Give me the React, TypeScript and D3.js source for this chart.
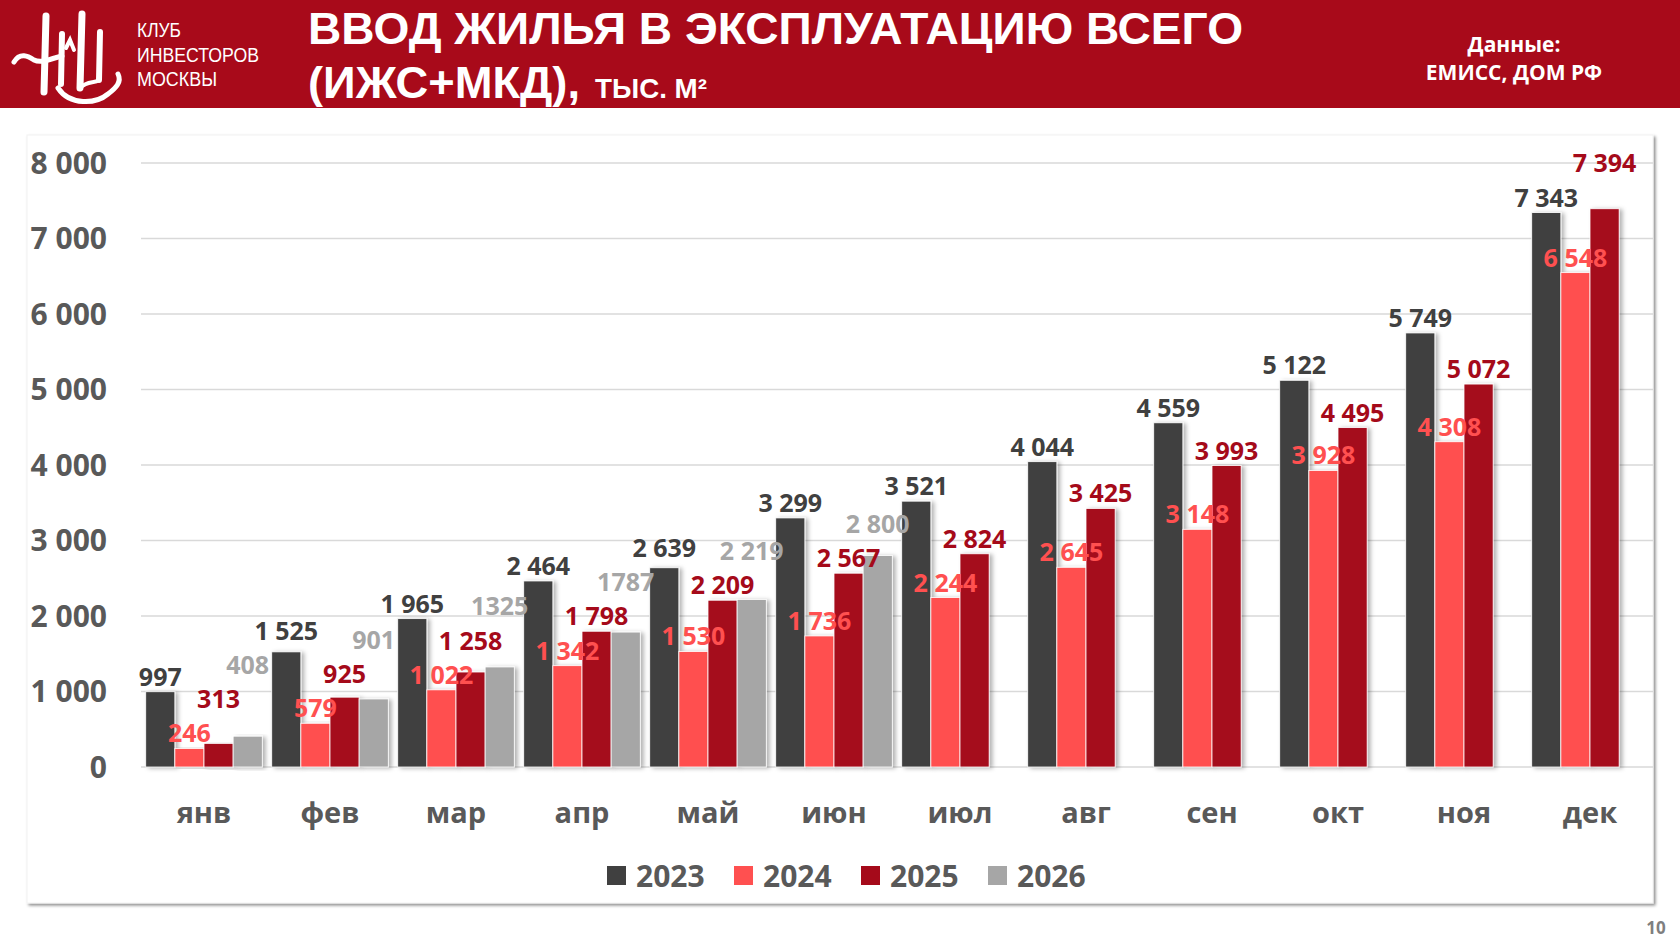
import React from 'react';
import * as d3 from 'd3';

const months = ['янв', 'фев', 'мар', 'апр', 'май', 'июн', 'июл', 'авг', 'сен', 'окт', 'ноя', 'дек'];
const years = ['2023', '2024', '2025', '2026'];

const values2023 = [997, 1525, 1965, 2464, 2639, 3299, 3521, 4044, 4559, 5122, 5749, 7343];
const values2024 = [246, 579, 1022, 1342, 1530, 1736, 2244, 2645, 3148, 3928, 4308, 6548];
const values2025 = [313, 925, 1258, 1798, 2209, 2567, 2824, 3425, 3993, 4495, 5072, 7394];
const values2026: (number | null)[] = [408, 901, 1325, 1787, 2219, 2800, null, null, null, null, null, null];
// 2026 labels are written as on the slide (some without the thousands space)
const labels2026 = ['408', '901', '1325', '1787', '2 219', '2 800'];

const yTicks = [0, 1000, 2000, 3000, 4000, 5000, 6000, 7000, 8000];

const colors = ['#404040', '#FF5050', '#A50A1A', '#A6A6A6'];
const headerRed = '#A80A1A';
const axisGray = '#595959';

interface BarDatum {
  month: string;
  year: string;
  value: number;
  label: string;
  idx: number;
}

interface Box {
  x0: number;
  x1: number;
  y0: number;
  y1: number;
}

const fmt = (v: number) => d3.format(',')(v).replace(/,/g, ' ');

const App: React.FC = () => {
  const ref = React.useRef<SVGSVGElement>(null);

  React.useEffect(() => {
    const W = 1680;
    const H = 945;
    const svg = d3.select(ref.current);
    svg.selectAll('*').remove();

    const defs = svg.append('defs');
    defs
      .append('filter')
      .attr('id', 'barShadow')
      .attr('x', '-20%')
      .attr('y', '-5%')
      .attr('width', '160%')
      .attr('height', '115%')
      .append('feDropShadow')
      .attr('dx', 3)
      .attr('dy', 1)
      .attr('stdDeviation', 2)
      .attr('flood-color', '#000')
      .attr('flood-opacity', 0.3);
    defs
      .append('filter')
      .attr('id', 'frameShadow')
      .attr('x', '-2%')
      .attr('y', '-2%')
      .attr('width', '104%')
      .attr('height', '106%')
      .append('feDropShadow')
      .attr('dx', 2)
      .attr('dy', 2)
      .attr('stdDeviation', 1.5)
      .attr('flood-color', '#000')
      .attr('flood-opacity', 0.45);

    svg.append('rect').attr('width', W).attr('height', H).attr('fill', '#fff');

    // header band
    svg.append('rect').attr('width', W).attr('height', 108).attr('fill', headerRed);

    // logo monogram (rough calligraphic shape)
    const logo = svg.append('g').attr('fill', 'none').attr('stroke', '#fff').attr('stroke-linecap', 'round');
    logo.append('path').attr('d', 'M46,16 L44,92').attr('stroke-width', 7);
    logo.append('path').attr('d', 'M62,34 L61,84').attr('stroke-width', 6);
    logo.append('path').attr('d', 'M14,62 C20,52 28,56 34,60 C42,64 52,58 62,56').attr('stroke-width', 5);
    logo.append('path').attr('d', 'M82,14 L80,88').attr('stroke-width', 7);
    logo.append('path').attr('d', 'M100,32 L99,80').attr('stroke-width', 6);
    logo.append('path').attr('d', 'M66,48 L70,40 L74,50').attr('stroke-width', 4);
    logo.append('path').attr('d', 'M58,88 C70,106 96,104 108,94 C116,88 122,82 118,74').attr('stroke-width', 5);
    logo.append('path').attr('d', 'M80,88 C88,80 94,84 99,80').attr('stroke-width', 4);

    const clubLines = ['КЛУБ', 'ИНВЕСТОРОВ', 'МОСКВЫ'];
    const clubLen = [44, 122, 80];
    svg
      .append('g')
      .selectAll('text')
      .data(clubLines)
      .enter()
      .append('text')
      .attr('x', 137)
      .attr('y', (_d: string, i: number) => 37 + i * 24.5)
      .attr('textLength', (_d: string, i: number) => clubLen[i])
      .attr('lengthAdjust', 'spacingAndGlyphs')
      .attr('fill', '#fff')
      .style('font-family', "'Liberation Sans Narrow', 'Liberation Sans', Arial, sans-serif")
      .style('font-size', '20px')
      .text((d: string) => d);

    const title = svg
      .append('g')
      .attr('fill', '#fff')
      .style('font-family', "'Liberation Sans', Arial, sans-serif")
      .style('font-weight', 700);
    title
      .append('text')
      .attr('x', 308)
      .attr('y', 44)
      .attr('textLength', 935)
      .attr('lengthAdjust', 'spacingAndGlyphs')
      .style('font-size', '45px')
      .text('ВВОД ЖИЛЬЯ В ЭКСПЛУАТАЦИЮ ВСЕГО');
    title
      .append('text')
      .attr('x', 308)
      .attr('y', 98)
      .attr('textLength', 272)
      .attr('lengthAdjust', 'spacingAndGlyphs')
      .style('font-size', '45px')
      .text('(ИЖС+МКД),');
    title
      .append('text')
      .attr('x', 595)
      .attr('y', 98)
      .attr('textLength', 112)
      .attr('lengthAdjust', 'spacingAndGlyphs')
      .style('font-size', '27px')
      .text('ТЫС. М²');

    const src = svg
      .append('g')
      .attr('fill', '#fff')
      .attr('text-anchor', 'middle')
      .style('font-family', "'Open Sans', 'Noto Sans', sans-serif")
      .style('font-weight', 700)
      .style('font-size', '21px');
    src.append('text').attr('x', 1514).attr('y', 52).text('Данные:');
    src.append('text').attr('x', 1514).attr('y', 80).text('ЕМИСС, ДОМ РФ');

    // chart frame
    svg
      .append('rect')
      .attr('x', 27)
      .attr('y', 135)
      .attr('width', 1626)
      .attr('height', 768)
      .attr('fill', '#fff')
      .attr('stroke', '#f2f2f2')
      .attr('filter', 'url(#frameShadow)');

    const x0 = d3.scaleBand<string>().domain(months).range([141, 1653]).paddingInner(0.075).paddingOuter(0.0375);
    const x1 = d3.scaleBand<string>().domain(years).range([0, x0.bandwidth()]);
    const y = d3.scaleLinear().domain([0, 8000]).range([767, 163]);

    const font = "'Open Sans', 'Noto Sans', sans-serif";

    // gridlines and y labels
    const grid = svg.append('g');
    grid
      .selectAll('line')
      .data(yTicks)
      .enter()
      .append('line')
      .attr('x1', 141)
      .attr('x2', 1653)
      .attr('y1', (d: number) => y(d))
      .attr('y2', (d: number) => y(d))
      .attr('stroke', '#d9d9d9')
      .attr('stroke-width', 1.5);
    grid
      .selectAll('text')
      .data(yTicks)
      .enter()
      .append('text')
      .attr('x', 107)
      .attr('y', (d: number) => y(d))
      .attr('dy', '0.36em')
      .attr('text-anchor', 'end')
      .attr('fill', axisGray)
      .style('font-family', font)
      .style('font-weight', 700)
      .style('font-size', '30px')
      .text((d: number) => fmt(d));

    const series = [values2023, values2024, values2025, values2026];
    const bars: BarDatum[] = [];
    series.forEach((vals, s) => {
      vals.forEach((v, m) => {
        if (v === null) return;
        bars.push({
          month: months[m],
          year: years[s],
          value: v,
          label: s === 3 ? labels2026[m] : fmt(v),
          idx: s
        });
      });
    });

    const barX = (d: BarDatum) => (x0(d.month) as number) + (x1(d.year) as number);

    const barG = svg.append('g');
    barG
      .selectAll('rect')
      .data(bars)
      .enter()
      .append('rect')
      .attr('x', barX)
      .attr('y', (d: BarDatum) => y(d.value))
      .attr('width', x1.bandwidth())
      .attr('height', (d: BarDatum) => y(0) - y(d.value))
      .attr('fill', (d: BarDatum) => colors[d.idx])
      .attr('stroke', '#fff')
      .attr('stroke-width', 0.8)
      .attr('filter', 'url(#barShadow)');

    // value labels, lifted when they collide with a neighbour (as the slide does by hand)
    const fs = 25;
    const labelSel = svg
      .append('g')
      .selectAll('text')
      .data(bars)
      .enter()
      .append('text')
      .attr('x', (d: BarDatum) => barX(d) + x1.bandwidth() / 2)
      .attr('y', (d: BarDatum) => y(d.value) - 7)
      .attr('text-anchor', 'middle')
      .attr('fill', (d: BarDatum) => colors[d.idx])
      .style('font-family', font)
      .style('font-weight', 700)
      .style('font-size', `${fs}px`)
      .text((d: BarDatum) => d.label);

    const placed: Box[] = [];
    const order = bars.map((_d, i) => i).sort((a, b) => {
      const ma = months.indexOf(bars[a].month);
      const mb = months.indexOf(bars[b].month);
      return ma - mb || bars[a].idx - bars[b].idx;
    });
    const nodes = labelSel.nodes() as SVGTextElement[];
    order.forEach((i) => {
      const node = nodes[i];
      const d = bars[i];
      const w = node.getComputedTextLength();
      const cx = barX(d) + x1.bandwidth() / 2;
      let base = y(d.value) - 6;
      const box = (b: number): Box => ({ x0: cx - w / 2 - 1, x1: cx + w / 2 + 1, y0: b - fs * 1.05, y1: b + fs * 0.28 });
      for (let k = 0; k < 12; k++) {
        const bx = box(base);
        const hit = placed.find((p) => bx.x0 < p.x1 && bx.x1 > p.x0 && bx.y0 < p.y1 && bx.y1 > p.y0);
        if (!hit) break;
        base = hit.y0 - fs * 0.28 - 1;
      }
      node.setAttribute('y', String(base));
      placed.push(box(base));
    });

    // month labels
    svg
      .append('g')
      .selectAll('text')
      .data(months)
      .enter()
      .append('text')
      .attr('x', (d: string) => (x0(d) as number) + x0.bandwidth() / 2)
      .attr('y', 823)
      .attr('text-anchor', 'middle')
      .attr('fill', axisGray)
      .style('font-family', font)
      .style('font-weight', 700)
      .style('font-size', '29px')
      .text((d: string) => d);

    // legend
    const legend = svg
      .append('g')
      .selectAll('g')
      .data(years)
      .enter()
      .append('g')
      .attr('transform', (_d: string, i: number) => `translate(${607 + i * 127},866)`);
    legend
      .append('rect')
      .attr('width', 19)
      .attr('height', 19)
      .attr('fill', (_d: string, i: number) => colors[i]);
    legend
      .append('text')
      .attr('x', 29)
      .attr('y', 21)
      .attr('fill', axisGray)
      .style('font-family', font)
      .style('font-weight', 700)
      .style('font-size', '30px')
      .text((d: string) => d);

    // page number
    svg
      .append('text')
      .attr('x', 1656)
      .attr('y', 934)
      .attr('text-anchor', 'middle')
      .attr('fill', '#7f7f7f')
      .style('font-family', font)
      .style('font-weight', 700)
      .style('font-size', '17px')
      .text('10');
  }, []);

  return (
    <svg
      ref={ref}
      width={1680}
      height={945}
      style={{ position: 'absolute', left: 0, top: 0, display: 'block' }}
    />
  );
};

export default App;
